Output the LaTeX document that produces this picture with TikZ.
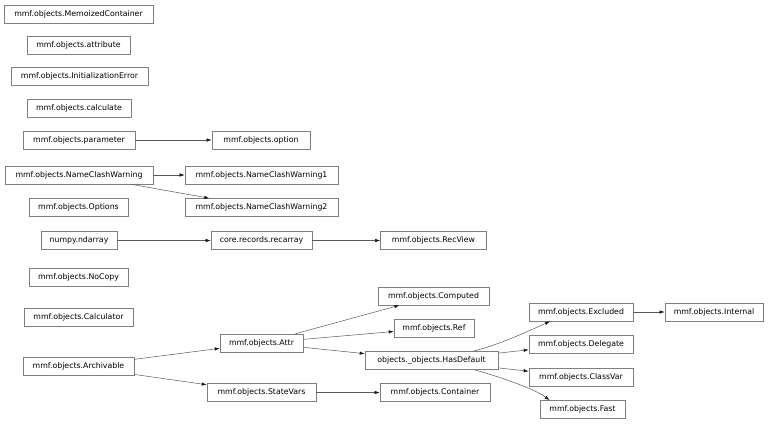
\documentclass[tikz,border=0pt]{standalone}
\usepackage{fontspec}
\setmainfont{DejaVu Sans}
\usetikzlibrary{arrows.meta}
\tikzset{
  cls/.style={draw=black!50, line width=0.6pt, fill=white, rectangle, inner xsep=0pt, inner ysep=0pt,
    minimum height=18pt, font=\fontsize{7.8}{9}\selectfont, text=black},
  edge/.style={draw=black!65, line width=0.5pt, -{Latex[length=5pt,width=3.4pt,color=black!90]}},
}
\begin{document}
\begin{tikzpicture}[x=1pt,y=-1pt]
\path[use as bounding box] (0,0) rectangle (768,423);
% rank 0
\node[cls, minimum width=149pt] (mc) at (78.5,14) {mmf.objects.MemoizedContainer};
\node[cls, minimum width=103pt] (attribute) at (78.5,45) {mmf.objects.attribute};
\node[cls, minimum width=137pt] (initerr) at (79.5,76.5) {mmf.objects.InitializationError};
\node[cls, minimum width=104pt] (calculate) at (79,108) {mmf.objects.calculate};
\node[cls, minimum width=112pt] (param) at (79,140) {mmf.objects.parameter};
\node[cls, minimum width=148pt] (ncw) at (79,175) {mmf.objects.NameClashWarning};
\node[cls, minimum width=99pt] (options) at (78.5,207.5) {mmf.objects.Options};
\node[cls, minimum width=76pt] (numpy) at (79,240.5) {numpy.ndarray};
\node[cls, minimum width=99pt] (nocopy) at (78.5,277) {mmf.objects.NoCopy};
\node[cls, minimum width=109pt] (calculator) at (78.5,317) {mmf.objects.Calculator};
\node[cls, minimum width=111pt] (archivable) at (78.5,366.5) {mmf.objects.Archivable};
% rank 1
\node[cls, minimum width=98pt] (option) at (261,140) {mmf.objects.option};
\node[cls, minimum width=153pt] (ncw1) at (261.5,175) {mmf.objects.NameClashWarning1};
\node[cls, minimum width=153pt] (ncw2) at (261.5,207.5) {mmf.objects.NameClashWarning2};
\node[cls, minimum width=101pt] (recarray) at (261.5,240.5) {core.records.recarray};
\node[cls, minimum width=83pt] (attr) at (261.5,343) {mmf.objects.Attr};
\node[cls, minimum width=109pt] (statevars) at (261.5,392.5) {mmf.objects.StateVars};
% rank 2
\node[cls, minimum width=106pt] (recview) at (433.5,240.5) {mmf.objects.RecView};
\node[cls, minimum width=111pt] (computed) at (433.5,296) {mmf.objects.Computed};
\node[cls, minimum width=80pt] (ref) at (434,328) {mmf.objects.Ref};
\node[cls, minimum width=133pt] (hasdef) at (431.5,360.5) {objects.\_objects.HasDefault};
\node[cls, minimum width=110pt] (container) at (435,392.5) {mmf.objects.Container};
% rank 3
\node[cls, minimum width=104pt] (excluded) at (581,312) {mmf.objects.Excluded};
\node[cls, minimum width=104pt] (delegate) at (581,344) {mmf.objects.Delegate};
\node[cls, minimum width=104pt] (classvar) at (581,377) {mmf.objects.ClassVar};
\node[cls, minimum width=85pt] (fast) at (582.5,409.5) {mmf.objects.Fast};
% rank 4
\node[cls, minimum width=98pt] (internal) at (714,312) {mmf.objects.Internal};
% edges
\draw[edge] (param) -- (option);
\draw[edge] (ncw) -- (ncw1);
\draw[edge] (ncw) -- (ncw2);
\draw[edge] (numpy) -- (recarray);
\draw[edge] (recarray) -- (recview);
\draw[edge] (archivable) -- (attr);
\draw[edge] (archivable) -- (statevars);
\draw[edge] (attr) -- (computed);
\draw[edge] (attr) -- (ref);
\draw[edge] (attr) -- (hasdef);
\draw[edge] (statevars) -- (container);
\draw[edge] ([xshift=41.5pt]hasdef.north) .. controls +(25,-6) and +(-22,10) .. ([xshift=-31pt]excluded.south);
\draw[edge] (hasdef) -- (delegate);
\draw[edge] (hasdef) -- (classvar);
\draw[edge] ([xshift=43pt]hasdef.south) .. controls +(25,7) and +(-14,-11) .. ([xshift=-33pt]fast.north);
\draw[edge] (excluded) -- (internal);
\end{tikzpicture}
\end{document}
